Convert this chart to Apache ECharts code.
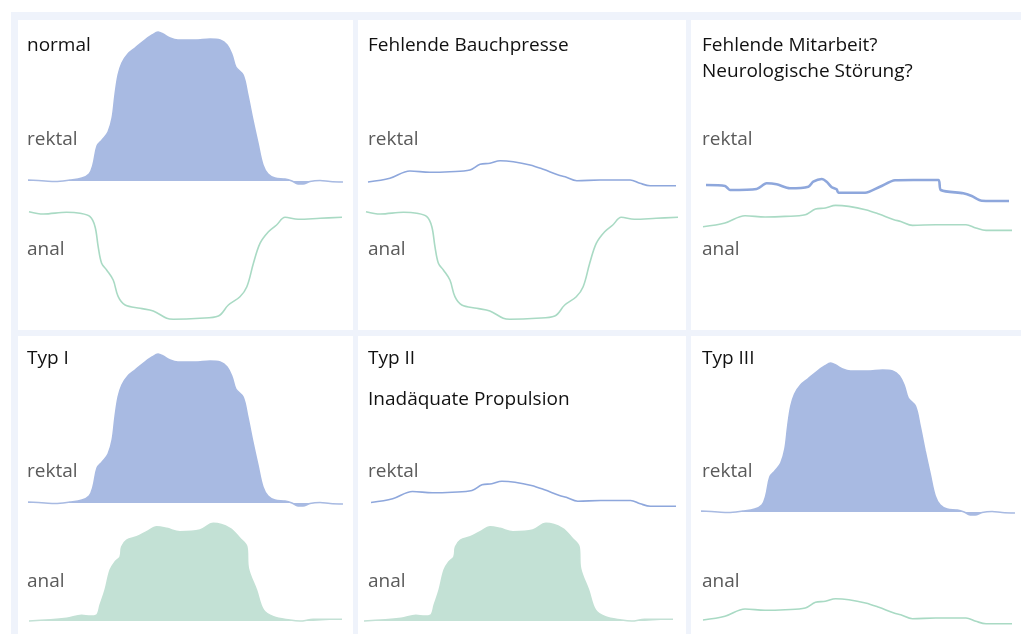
<!DOCTYPE html>
<html>
<head>
<meta charset="utf-8">
<script src="https://cdn.jsdelivr.net/npm/echarts@6/dist/echarts.min.js"></script>
<style>
html,body{margin:0;padding:0;background:#fff;}
#c{width:1021px;height:634px;}
</style>
</head>
<body>
<div id="c"></div>
<script>
// ---- Data: shapes as [time (0-100), pressure (relative units)] ----
// rectal: normal push (strong pressure rise)
var rectalPush = [[0,1],[5.4,0],[8.6,-0.5],[13.3,1],[17.1,3],[19.4,7],[20.6,16],[21.9,35],[23.5,41],[25.4,49],[26.7,63],[27.6,86],[28.6,106],[29.8,118],[31.7,127],[34.0,133],[37.1,141],[39.4,146],[41.3,149],[42.9,147],[45.1,143],[47.6,141],[53.0,141],[57.8,142],[61.0,141],[63.2,136],[64.8,126],[66.0,114],[68.3,106],[69.8,86],[71.4,61],[73.0,38],[74.6,16],[76.2,7],[78.4,3],[81.6,2],[83.8,0],[85.7,-3],[87.3,-3],[89.5,-0.5],[92.7,0.5],[95.9,-0.5],[100,-1]];
// weak pressure curve (no abdominal press)
var weakCurve = [[0,4],[7.1,7.7],[13.6,15],[20.1,13.7],[26.6,14.3],[33.1,16],[36.4,21.7],[39.6,22.7],[42.9,25.3],[47.2,24.3],[52.6,21],[56.9,16.7],[61.8,11],[64.0,9.3],[67.8,5.3],[75.3,6],[85.1,6],[88.3,2.7],[91.6,0.3],[100,0.3]];
// anal: normal relaxation (pressure drop)
var analRelax = [[0,0.3],[4.6,-2],[12.0,-0.3],[16.3,-1.3],[19.5,-4.7],[21.1,-14.7],[22.1,-34.7],[23.2,-51.3],[24.8,-58],[26.9,-68],[28.5,-84.7],[30.7,-93],[35.5,-96.3],[39.7,-99],[44.0,-106.3],[46.1,-107.3],[54.6,-106.3],[60.5,-104],[63.7,-93],[67.4,-84.7],[69.6,-74.7],[71.7,-51.3],[73.8,-31.3],[76.5,-19.7],[79.1,-13],[81.8,-5.3],[86.0,-7.3],[93.0,-6.3],[100,-5.3]];
// anal: paradoxical contraction
var analContract = [[0,0],[12.0,2.7],[16.8,5.7],[19.5,5],[21.6,6],[22.7,16],[24.3,31],[25.9,51],[27.5,59.3],[29.1,64.3],[29.6,74.3],[31.2,81],[34.4,84.3],[37.6,89.3],[40.8,94.3],[44.0,92.7],[48.2,89.3],[54.6,91],[58.9,97.7],[64.2,92.7],[67.4,82.7],[69.6,74.3],[70.1,52.7],[72.7,31],[74.9,11],[78.1,4.3],[83.4,1],[86.6,0],[90.8,1.7],[100,1.7]];
// rectal: lacking cooperation (irregular)
var rectalIrregular = [[0,16],[6.3,15],[7.9,11],[16.7,12],[20.0,17.7],[23.3,16.7],[27.7,12.7],[33.8,14.3],[35.4,19.3],[38.2,22],[39.8,19.3],[41.5,13.7],[43.1,11.7],[43.7,8.3],[52.5,8.3],[57.4,14.3],[62.4,20.7],[68.4,21],[76.7,21],[77.5,11],[84.9,7.7],[87.7,5],[91.0,0.3],[100,0]];

var panelTitles = [
  ["normal"],
  ["Fehlende Bauchpresse"],
  ["Fehlende Mitarbeit?", "Neurologische Störung?"],
  ["Typ I"],
  ["Typ II", "Inadäquate Propulsion"],
  ["Typ III"]
];
var channelLabels = ["rektal", "anal"];

// ---- Styles / layout ----
var BLUE_FILL = '#a8bae2', BLUE_LINE = '#8ea7dc';
var GREEN_FILL = '#c3e1d5', GREEN_LINE = '#a9dac4';

var colX = [18, 358, 691];
var colW = [335, 328, 335];
var rowY = [20, 336];
var rowH = [310, 310];

var curves = [
  // panel 1
  {d: rectalPush, zero: 181, left: 28, width: 315, min: -10, max: 160, fill: true, c: 'b'},
  {d: analRelax, zero: 212, left: 29, width: 313, min: -120, max: 10, fill: false, c: 'g'},
  // panel 2
  {d: weakCurve, zero: 186, left: 368, width: 308, min: -5, max: 30, fill: false, c: 'b'},
  {d: analRelax, zero: 212, left: 366, width: 312, min: -120, max: 10, fill: false, c: 'g'},
  // panel 3
  {d: rectalIrregular, zero: 201, left: 706, width: 303, min: -5, max: 30, fill: false, c: 'b', thick: true},
  {d: weakCurve, zero: 230.7, left: 703, width: 309, min: -5, max: 30, fill: false, c: 'g'},
  // panel 4
  {d: rectalPush, zero: 503, left: 28, width: 315, min: -10, max: 160, fill: true, c: 'b'},
  {d: analContract, zero: 621, left: 29, width: 313, min: -10, max: 110, fill: true, c: 'g'},
  // panel 5
  {d: weakCurve, zero: 506.5, left: 371, width: 305, min: -5, max: 30, fill: false, c: 'b'},
  {d: analContract, zero: 621, left: 364, width: 309, min: -10, max: 110, fill: true, c: 'g'},
  // panel 6
  {d: rectalPush, zero: 512, left: 701, width: 314, min: -10, max: 160, fill: true, c: 'b'},
  {d: weakCurve, zero: 624, left: 703, width: 309, min: -5, max: 30, fill: false, c: 'g'}
];

var grids = [], xAxes = [], yAxes = [], series = [];
curves.forEach(function (cv, i) {
  grids.push({left: cv.left, width: cv.width, top: cv.zero - cv.max, height: cv.max - cv.min, containLabel: false});
  xAxes.push({type: 'value', gridIndex: i, min: 0, max: 100, show: false});
  yAxes.push({type: 'value', gridIndex: i, min: cv.min, max: cv.max, show: false});
  var blue = cv.c === 'b';
  var s = {
    type: 'line', xAxisIndex: i, yAxisIndex: i, data: cv.d,
    smooth: cv.thick ? 0.25 : 0.35, symbol: 'none', clip: false, silent: true,
    lineStyle: {color: blue ? BLUE_LINE : GREEN_LINE, width: cv.thick ? 2.6 : 1.6}
  };
  if (cv.fill) {
    s.lineStyle.color = blue ? BLUE_FILL : GREEN_FILL;
    s.lineStyle.width = 1.5;
    s.areaStyle = {color: blue ? BLUE_FILL : GREEN_FILL, opacity: 1, origin: 0};
  }
  series.push(s);
});

// ---- Graphics: backgrounds and text ----
var graphics = [{type: 'rect', shape: {x: 11, y: 12, width: 1010, height: 622}, style: {fill: '#eff3fb'}, z: -10}];
for (var r = 0; r < 2; r++) {
  for (var c = 0; c < 3; c++) {
    graphics.push({type: 'rect', shape: {x: colX[c], y: rowY[r], width: colW[c], height: rowH[r]}, style: {fill: '#ffffff'}, z: -9});
  }
}
var FONT = '"Open Sans", "Noto Sans", sans-serif';
var SHIFT = 4;
var titleBase = [50.7 + SHIFT, 364.3 + SHIFT];
var rektalBase = [145 + SHIFT, 476.7 + SHIFT];
var analBase = [255 + SHIFT, 586.7 + SHIFT];
var labelX = [27, 368, 702];
var titleLineOffsets = [[0], [0], [0, 26], [0], [0, 41], [0]];
panelTitles.forEach(function (lines, p) {
  var r = Math.floor(p / 3), c = p % 3;
  lines.forEach(function (txt, k) {
    graphics.push({type: 'text', x: labelX[c], y: titleBase[r] + titleLineOffsets[p][k], z: 10,
      style: {text: txt, fill: '#111111', font: '19px ' + FONT, verticalAlign: 'bottom'}});
  });
  graphics.push({type: 'text', x: labelX[c], y: rektalBase[r], z: 10,
    style: {text: channelLabels[0], fill: '#5a5a5a', font: '19px ' + FONT, verticalAlign: 'bottom'}});
  graphics.push({type: 'text', x: labelX[c], y: analBase[r], z: 10,
    style: {text: channelLabels[1], fill: '#5a5a5a', font: '19px ' + FONT, verticalAlign: 'bottom'}});
});

var chart = echarts.init(document.getElementById('c'), null, {renderer: 'canvas'});
chart.setOption({
  animation: false,
  backgroundColor: '#ffffff',
  grid: grids, xAxis: xAxes, yAxis: yAxes, series: series,
  graphic: graphics
});
</script>
</body>
</html>
